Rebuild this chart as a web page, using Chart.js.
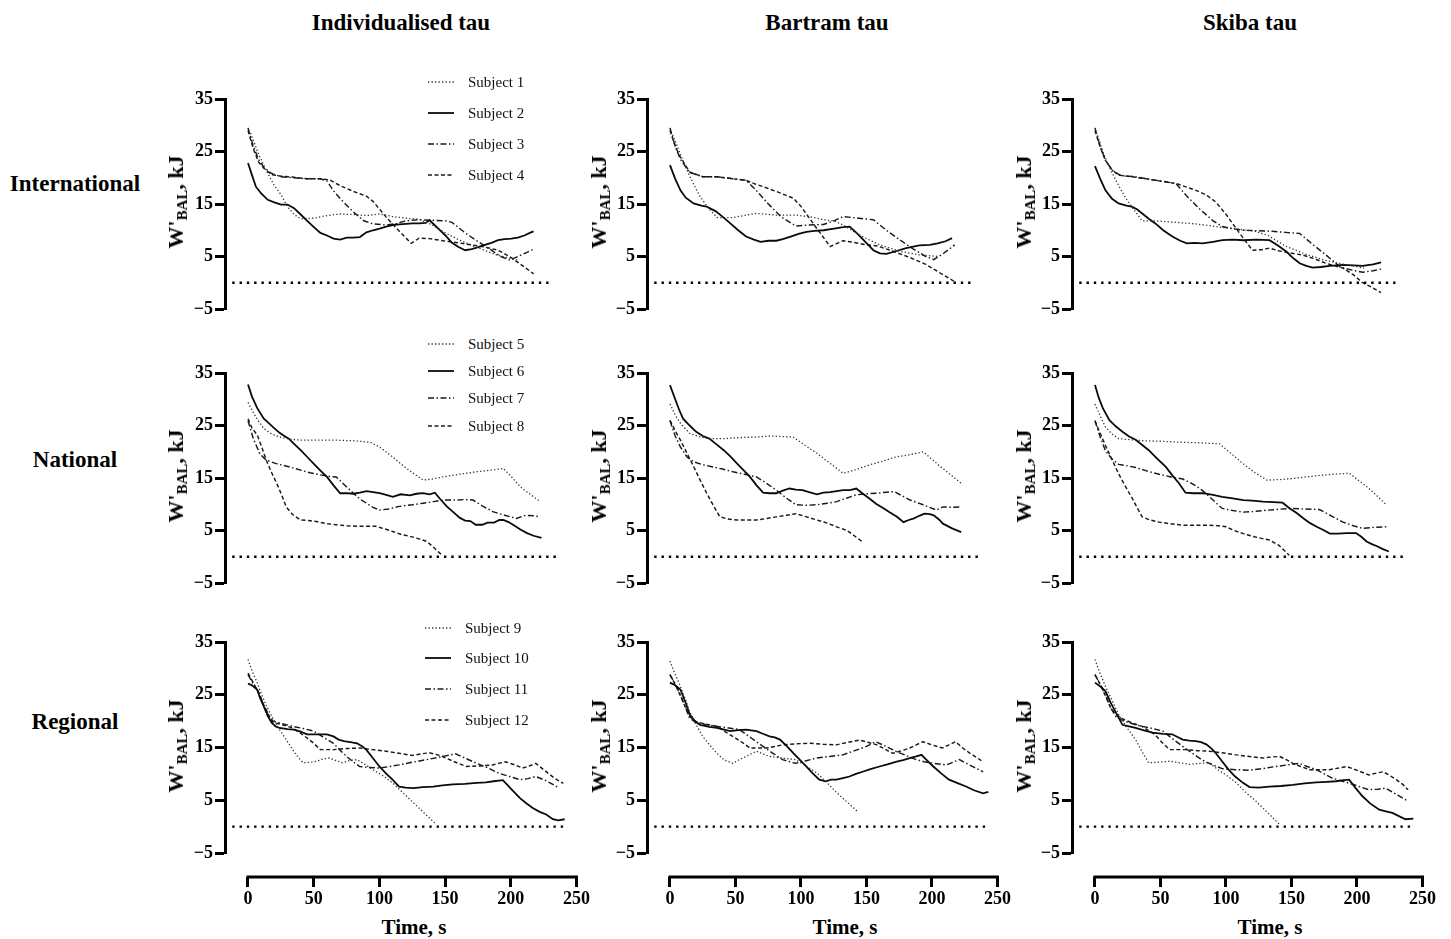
<!DOCTYPE html>
<html><head><meta charset="utf-8">
<script src="https://cdn.jsdelivr.net/npm/chart.js@4.4.1/dist/chart.umd.min.js"></script>
<style>
html,body{margin:0;padding:0;background:#fff;}
body{width:1451px;height:939px;position:relative;overflow:hidden;font-family:'Liberation Serif','Times New Roman',serif;color:#000;}
canvas{position:absolute;}
.t{position:absolute;transform:translate(-50%,-50%);font-weight:bold;white-space:nowrap;line-height:1;font-size:23px;}
.yt{position:absolute;transform:translate(-50%,-50%) rotate(-90deg);font-weight:bold;font-size:22px;white-space:nowrap;line-height:1;}
.yt sub{font-size:15px;vertical-align:baseline;position:relative;top:4px;}
.lrow{position:absolute;white-space:nowrap;height:18px;display:flex;align-items:center;transform:translateY(-50%);font-size:15px;color:#111;}
.lrow svg{display:block;}
</style></head>
<body>
<script>
// ---------------- labels / ticks ----------------
const columnTitles = ['Individualised tau', 'Bartram tau', 'Skiba tau'];
const rowTitles = ['International', 'National', 'Regional'];
const subjectLabels = [
  ['Subject 1', 'Subject 2', 'Subject 3', 'Subject 4'],
  ['Subject 5', 'Subject 6', 'Subject 7', 'Subject 8'],
  ['Subject 9', 'Subject 10', 'Subject 11', 'Subject 12']
];
const xTicks = [0, 50, 100, 150, 200, 250];
const yTicks = [-5, 5, 15, 25, 35];
const xAxisTitle = 'Time, s';
// dotted reference line at W'BAL = 0 : [start time, end time] per row
const zeroSpan = [[-12, 229], [-12, 235], [-12, 243]];

// ---------------- data: [time s, W'BAL kJ] ----------------
// International – Individualised tau
const intl_indiv_s1 = [[2,28.5],[8,24.5],[14,21.3],[20,18.5],[25,16.8],[30,14.5],[35,13.0],[40,12.2],[50,12.3],[60,12.8],[70,13.1],[80,13.0],[90,12.8],[100,13.1],[110,12.6],[120,12.3],[130,12.1],[140,11.0],[150,9.5],[160,8.2],[175,6.6],[190,5.2],[205,4.3]];
const intl_indiv_s2 = [[0,22.8],[3,20.5],[6,18.3],[10,17.0],[15,15.8],[20,15.3],[25,14.9],[30,14.9],[35,14.2],[40,13.0],[45,11.8],[50,10.6],[55,9.5],[60,9.0],[65,8.4],[70,8.2],[75,8.6],[80,8.6],[85,8.7],[90,9.6],[95,10.0],[100,10.3],[105,10.7],[110,11.0],[115,11.1],[120,11.2],[125,11.3],[130,11.3],[135,11.4],[138,11.9],[145,10.2],[150,9.0],[155,7.6],[160,6.8],[165,6.2],[170,6.4],[175,6.8],[180,7.2],[185,7.6],[190,8.1],[195,8.3],[200,8.4],[205,8.6],[210,9.0],[215,9.6],[217,9.8]];
const intl_indiv_s3 = [[0,29.5],[4,26],[8,23.5],[12,22],[18,20.8],[25,20.2],[35,20.0],[45,19.8],[55,19.8],[60,19.4],[65,17.5],[72,15.5],[80,13.5],[88,11.8],[95,11.2],[105,11.0],[113,11.3],[120,11.8],[130,12.0],[140,11.9],[150,11.8],[155,11.5],[165,9.5],[175,7.8],[185,6.2],[192,5.0],[199,4.3],[205,5.0],[212,5.8],[217,6.4]];
const intl_indiv_s4 = [[0,29.0],[4,25.5],[8,23.0],[12,21.8],[18,20.6],[25,20.3],[35,20.1],[45,19.8],[55,19.8],[62,19.6],[70,18.5],[80,17.4],[90,16.5],[95,15.5],[105,12.5],[115,9.8],[124,7.5],[130,8.5],[138,8.4],[148,8.0],[160,7.6],[170,7.2],[180,6.8],[190,6.2],[200,4.8],[210,3.0],[217,1.7]];
// International – Bartram tau
const intl_bart_s1 = [[2,28.2],[8,24.5],[13,21.4],[18,18.8],[23,16.4],[30,14.0],[36,12.4],[48,12.4],[58,12.9],[66,13.2],[81,12.9],[96,12.9],[108,12.5],[117,12.0],[125,11.8],[132,11.0],[145,9.0],[160,7.2],[175,6.0],[190,5.3],[205,5.0]];
const intl_bart_s2 = [[0,22.4],[4,19.8],[8,17.6],[12,16.2],[18,15.1],[24,14.7],[28,14.5],[35,13.6],[40,12.6],[46,11.3],[52,10.0],[58,8.8],[64,8.2],[69,7.8],[75,8.0],[81,8.0],[86,8.3],[92,8.8],[98,9.3],[104,9.7],[110,9.9],[117,10.0],[125,10.3],[132,10.6],[137,10.7],[143,9.3],[150,7.5],[155,6.2],[160,5.6],[165,5.5],[172,6.0],[180,6.6],[190,7.1],[198,7.2],[204,7.5],[210,7.9],[215,8.5]];
const intl_bart_s3 = [[0,29.5],[4,26.0],[8,23.5],[15,21.0],[25,20.2],[36,20.2],[48,19.8],[58,19.5],[65,17.8],[75,15.0],[85,12.5],[96,10.8],[106,11.0],[117,11.1],[125,11.8],[132,12.6],[140,12.4],[155,12.0],[165,10.0],[175,8.2],[185,6.5],[195,5.0],[201,4.4],[208,5.5],[217,7.2]];
const intl_bart_s4 = [[0,29.0],[4,26.0],[8,23.9],[15,21.1],[25,20.2],[36,20.2],[48,19.8],[58,19.5],[65,18.8],[71,18.3],[82,17.3],[94,16.1],[100,14.5],[110,11.0],[122,6.9],[132,8.0],[140,7.7],[148,7.3],[158,7.0],[170,6.0],[183,4.8],[195,3.5],[205,2.0],[217,0.2]];
// International – Skiba tau
const intl_skiba_s1 = [[1,28.7],[6,25.0],[11,22.0],[17,19.0],[23,16.3],[30,13.8],[36,11.8],[45,11.8],[62,11.5],[77,11.2],[90,10.8],[97,10.5],[110,10.2],[122,9.8],[132,9.0],[145,7.0],[160,5.5],[175,4.3],[190,3.5],[205,2.8]];
const intl_skiba_s2 = [[0,22.2],[4,19.8],[8,17.6],[13,16.0],[18,15.1],[24,14.7],[28,14.5],[32,14.0],[36,13.2],[41,12.2],[46,11.3],[52,10.0],[59,8.8],[65,8.0],[70,7.5],[76,7.6],[82,7.5],[90,7.8],[97,8.1],[105,8.2],[113,8.1],[123,8.2],[133,8.1],[140,7.0],[146,5.9],[151,4.7],[156,3.7],[161,3.2],[166,2.9],[172,3.0],[179,3.2],[189,3.4],[197,3.3],[204,3.2],[212,3.5],[218,3.9]];
const intl_skiba_s3 = [[0,29.5],[4,26],[8,23.3],[14,21.2],[20,20.4],[30,20.2],[44,19.6],[55,19.2],[62,18.8],[70,16.5],[80,14.0],[90,11.8],[97,10.7],[105,10.3],[113,10.0],[125,9.9],[135,9.8],[145,9.6],[156,9.4],[165,7.5],[175,5.5],[187,3.0],[196,2.4],[204,2.0],[212,2.3],[218,2.6]];
const intl_skiba_s4 = [[0,29.0],[4,25.8],[8,23.3],[13,21.5],[18,20.5],[28,20.2],[44,19.6],[62,18.9],[77,17.6],[85,16.7],[92,15.4],[100,13.0],[110,9.5],[120,6.2],[127,6.3],[133,6.6],[140,6.1],[148,5.7],[158,5.3],[167,4.6],[176,3.7],[189,2.8],[197,1.5],[204,0.0],[212,-1.0],[218,-1.9]];
// National – Individualised tau
const nat_indiv_s5 = [[0,29.4],[4,27.5],[7,26.2],[12,24.4],[18,23.4],[24,22.8],[32,22.4],[40,22.2],[55,22.2],[67,22.2],[80,22.1],[93,21.8],[100,20.9],[110,19.0],[120,16.9],[133,14.6],[140,14.8],[148,15.2],[160,15.7],[174,16.2],[185,16.5],[194,16.8],[200,15.3],[207,13.3],[215,11.8],[222,10.5]];
const nat_indiv_s6 = [[0,32.8],[3,30.5],[7,28.3],[12,26.3],[16,25.4],[19,24.7],[24,23.6],[27,23.1],[31,22.5],[35,21.5],[40,20.3],[45,19.0],[50,17.7],[55,16.4],[60,15.2],[65,13.6],[70,12.1],[75,12.1],[80,12.0],[85,12.2],[90,12.5],[95,12.3],[100,12.1],[105,11.8],[110,11.4],[116,11.9],[123,11.7],[128,12.0],[133,12.1],[138,11.9],[142,12.2],[146,11.0],[151,9.6],[156,8.5],[161,7.4],[165,6.9],[169,6.8],[173,6.1],[178,6.1],[182,6.5],[187,6.5],[191,7.0],[194,7.0],[198,6.6],[202,6.0],[207,5.2],[212,4.5],[217,4.0],[223,3.6]];
const nat_indiv_s7 = [[0,25.9],[4,22.5],[9,19.6],[13,18.6],[17,18.1],[22,17.7],[27,17.4],[33,17.0],[40,16.5],[47,16.0],[55,15.6],[62,15.3],[67,15.2],[72,14.0],[80,12.1],[85,11.0],[90,10.2],[95,9.4],[100,8.9],[107,9.1],[115,9.6],[125,9.9],[133,10.2],[141,10.5],[148,10.8],[158,10.8],[165,10.9],[171,10.8],[178,9.7],[186,8.6],[195,7.9],[204,7.3],[211,7.9],[217,7.8],[222,7.6]];
const nat_indiv_s8 = [[0,26.3],[3,24.5],[7,23.2],[11,20.5],[14,18.3],[18,16.0],[22,13.9],[26,11.5],[29,9.5],[34,8.0],[40,7.0],[46,6.9],[52,6.7],[60,6.3],[67,6.1],[75,5.9],[85,5.8],[97,5.8],[104,5.3],[110,4.8],[117,4.2],[123,3.9],[130,3.4],[136,2.9],[141,1.8],[147,0.4]];
// National – Bartram tau
const nat_bart_s5 = [[0,29.1],[4,27.0],[8,25.4],[15,23.5],[22,22.9],[30,22.5],[42,22.5],[53,22.7],[65,22.8],[76,23.0],[85,22.9],[94,22.8],[103,21.2],[112,19.7],[122,17.8],[132,15.9],[142,16.6],[152,17.5],[162,18.2],[172,19.0],[182,19.4],[193,20.0],[200,18.5],[206,17.2],[214,15.6],[222,14.0]];
const nat_bart_s6 = [[0,32.7],[4,30.0],[7,28.0],[10,26.3],[15,25.0],[20,23.8],[25,23.0],[30,22.5],[35,21.5],[41,20.3],[46,19.1],[51,17.8],[56,16.5],[61,15.2],[66,13.6],[71,12.2],[76,12.1],[81,12.1],[86,12.6],[91,13.0],[96,12.8],[101,12.7],[106,12.3],[112,11.9],[117,12.2],[122,12.3],[127,12.5],[132,12.7],[137,12.7],[142,13.0],[147,12.0],[152,11.1],[157,10.1],[163,9.2],[168,8.4],[173,7.6],[178,6.6],[182,7.0],[186,7.3],[190,7.8],[194,8.2],[198,8.1],[201,7.9],[205,7.1],[208,6.3],[215,5.4],[222,4.7]];
const nat_bart_s7 = [[0,25.9],[4,23.0],[8,20.9],[13,19.0],[18,18.1],[24,17.6],[31,17.2],[40,16.7],[48,16.2],[57,15.7],[66,15.2],[73,14.1],[81,12.7],[88,11.3],[96,9.9],[104,9.8],[112,9.9],[120,10.2],[127,10.5],[135,11.2],[142,11.8],[150,12.0],[158,12.1],[165,12.3],[171,12.4],[177,11.6],[183,10.8],[193,9.9],[203,8.9],[208,9.5],[215,9.4],[222,9.5]];
const nat_bart_s8 = [[0,26.0],[4,24.0],[8,22.2],[13,19.7],[18,17.2],[23,14.6],[28,12.1],[33,9.8],[38,7.6],[44,7.2],[51,7.0],[58,7.0],[66,7.0],[74,7.3],[81,7.6],[89,7.9],[96,8.2],[104,7.6],[112,7.0],[120,6.4],[127,5.7],[135,5.0],[141,3.9],[147,2.8]];
// National – Skiba tau
const nat_skiba_s5 = [[0,29.1],[4,26.8],[8,24.7],[13,23.4],[18,22.5],[27,22.3],[36,22.1],[50,22.0],[67,21.8],[80,21.7],[95,21.5],[104,19.6],[113,17.7],[122,16.0],[131,14.6],[141,14.7],[151,14.9],[164,15.3],[176,15.6],[186,15.8],[194,15.9],[200,14.7],[207,13.4],[215,11.6],[222,9.9]];
const nat_skiba_s6 = [[0,32.7],[3,30.2],[6,28.3],[11,26.0],[16,24.8],[21,23.8],[26,22.9],[31,22.3],[36,21.3],[41,20.3],[47,18.8],[54,17.1],[59,15.5],[64,14.0],[69,12.2],[75,12.1],[82,12.1],[90,11.8],[97,11.4],[105,11.1],[113,10.8],[120,10.7],[128,10.5],[136,10.4],[143,10.3],[148,9.3],[154,8.3],[159,7.3],[164,6.4],[169,5.7],[174,5.1],[179,4.4],[185,4.4],[192,4.5],[199,4.5],[203,3.8],[207,2.9],[211,2.4],[215,2.0],[219,1.5],[224,1.0]];
const nat_skiba_s7 = [[0,25.9],[4,22.8],[8,20.2],[13,18.6],[18,17.6],[25,17.3],[31,17.0],[40,16.3],[49,15.7],[58,15.2],[67,14.8],[75,13.8],[82,12.6],[90,10.8],[97,9.2],[105,8.8],[113,8.5],[120,8.6],[128,8.8],[138,9.0],[148,9.2],[160,9.1],[171,9.0],[180,7.8],[189,6.6],[197,5.9],[204,5.4],[212,5.6],[222,5.7]];
const nat_skiba_s8 = [[0,25.9],[4,23.5],[8,21.2],[13,18.5],[18,15.8],[23,13.5],[28,11.3],[32,9.4],[36,7.6],[42,7.0],[49,6.6],[57,6.3],[67,6.0],[77,6.0],[87,6.0],[94,5.9],[100,5.7],[106,5.0],[113,4.4],[120,3.9],[127,3.5],[133,3.2],[140,2.2],[148,0.3]];
// Regional – Individualised tau
const reg_indiv_s9 = [[0,31.7],[3,29.6],[7,27.3],[10,25.3],[14,22.9],[19,20.5],[24,18.4],[29,16.5],[34,14.6],[38,13.2],[42,12.1],[47,12.2],[52,12.4],[57,12.8],[62,13.0],[67,12.5],[72,12.1],[77,12.5],[83,12.7],[89,11.8],[95,10.8],[103,9.6],[110,8.3],[118,6.4],[126,4.5],[134,2.6],[142,0.7]];
const reg_indiv_s10 = [[0,27.1],[3,26.8],[7,26.0],[9,24.5],[12,22.8],[15,21.0],[18,19.7],[21,19.0],[24,18.7],[30,18.5],[35,18.4],[40,18.0],[45,17.5],[52,17.5],[60,17.5],[65,17.1],[69,16.5],[73,16.2],[78,16.0],[83,15.8],[87,15.2],[90,14.6],[95,13.0],[100,11.4],[105,10.1],[110,8.9],[115,7.6],[120,7.4],[126,7.3],[133,7.5],[141,7.6],[148,7.8],[156,8.0],[165,8.1],[174,8.3],[181,8.4],[187,8.6],[194,8.8],[200,7.2],[207,5.4],[212,4.4],[217,3.5],[222,2.8],[227,2.3],[232,1.4],[236,1.2],[241,1.4]];
const reg_indiv_s11 = [[0,28.8],[4,27.0],[8,25.5],[12,23.0],[16,21.0],[19,20.0],[25,19.6],[34,19.0],[42,18.6],[50,18.1],[57,17.0],[65,15.8],[70,14.5],[75,13.3],[80,12.3],[85,11.4],[92,11.2],[100,11.1],[108,11.4],[115,11.7],[125,12.2],[136,12.7],[148,13.3],[158,13.8],[166,12.9],[174,12.0],[182,11.2],[191,10.1],[199,9.5],[207,8.9],[213,9.1],[219,9.5],[226,8.8],[232,8.0],[237,7.3]];
const reg_indiv_s12 = [[0,29.1],[4,27.3],[8,25.5],[12,23.0],[16,21.0],[19,19.7],[25,19.4],[34,18.7],[40,17.7],[45,16.8],[50,15.8],[55,14.6],[60,14.6],[65,14.6],[75,14.8],[85,14.9],[95,14.6],[105,14.3],[115,13.9],[125,13.5],[132,13.8],[138,14.0],[143,13.7],[148,13.3],[157,12.3],[166,11.4],[176,11.5],[186,11.7],[196,12.3],[203,11.7],[209,11.1],[214,11.5],[219,12.0],[224,11.0],[230,9.8],[235,8.9],[240,8.2]];
// Regional – Bartram tau
const reg_bart_s9 = [[0,31.4],[4,28.9],[8,26.6],[12,24.0],[15,21.8],[20,19.3],[25,17.1],[30,15.6],[35,14.1],[41,12.7],[48,12.0],[53,12.7],[58,13.3],[66,14.3],[71,13.8],[76,13.3],[86,13.0],[96,12.7],[104,11.5],[112,10.2],[120,8.3],[127,6.5],[135,4.7],[143,2.9]];
const reg_bart_s10 = [[0,27.3],[4,26.8],[8,26.0],[12,23.5],[15,21.3],[19,20.0],[23,19.3],[30,18.9],[36,18.7],[46,18.1],[52,18.3],[58,18.4],[66,18.1],[71,17.6],[76,17.1],[80,16.9],[84,16.5],[89,15.3],[94,14.0],[99,12.7],[104,11.4],[109,10.1],[114,8.9],[119,8.6],[123,8.9],[127,8.9],[132,9.2],[137,9.5],[142,10.0],[147,10.4],[153,10.9],[160,11.4],[166,11.8],[173,12.3],[178,12.6],[183,13.0],[188,13.3],[192,13.6],[196,12.6],[201,11.4],[207,10.1],[213,8.9],[220,8.2],[226,7.6],[232,6.9],[239,6.3],[243,6.6]];
const reg_bart_s11 = [[0,28.8],[4,27.0],[8,25.0],[12,22.5],[15,20.6],[20,19.7],[28,19.3],[36,19.0],[45,18.7],[53,18.4],[62,16.8],[71,15.2],[78,14.0],[86,12.7],[96,12.0],[104,12.5],[112,13.0],[122,13.3],[132,13.6],[141,14.4],[150,15.2],[157,16.1],[165,15.2],[173,14.2],[180,13.5],[188,12.7],[194,12.3],[201,12.0],[211,11.7],[216,12.2],[221,12.7],[230,11.5],[239,10.4]];
const reg_bart_s12 = [[0,28.8],[4,27.0],[8,24.8],[12,22.5],[15,20.9],[20,19.9],[28,19.4],[36,19.0],[42,18.0],[48,17.1],[55,16.0],[61,14.9],[67,14.9],[74,14.9],[80,15.2],[86,15.5],[96,15.7],[107,15.8],[117,15.6],[127,15.5],[136,16.0],[145,16.4],[151,16.0],[158,15.5],[164,14.7],[170,13.9],[177,14.4],[183,14.9],[188,15.5],[193,16.1],[200,15.5],[208,14.9],[213,15.5],[218,16.1],[223,15.0],[229,13.9],[234,13.1],[239,12.3]];
// Regional – Skiba tau
const reg_skiba_s9 = [[0,31.7],[4,29.0],[8,26.6],[13,24.0],[18,21.3],[24,18.9],[31,16.5],[36,14.2],[41,12.1],[48,12.2],[57,12.4],[65,12.1],[72,11.8],[80,12.0],[87,12.1],[95,10.6],[100,9.8],[108,8.3],[115,6.5],[123,4.8],[132,2.6],[141,0.4]];
const reg_skiba_s10 = [[0,27.3],[4,26.6],[8,25.7],[12,23.5],[16,21.6],[21,19.3],[26,19.0],[31,18.7],[38,18.2],[44,17.8],[52,17.6],[59,17.5],[63,17.0],[67,16.5],[72,16.3],[77,16.2],[81,16.0],[85,15.6],[89,14.8],[92,14.0],[97,12.4],[102,10.8],[107,9.5],[113,8.3],[118,7.5],[125,7.4],[133,7.6],[142,7.7],[151,7.9],[160,8.2],[169,8.4],[177,8.5],[184,8.6],[190,8.8],[194,8.9],[199,7.3],[204,5.8],[210,4.4],[217,3.2],[222,2.9],[227,2.6],[232,2.0],[237,1.4],[243,1.5]];
const reg_skiba_s11 = [[0,28.8],[4,27.0],[8,25.0],[12,22.5],[16,20.9],[22,20.0],[30,19.4],[36,19.0],[44,18.6],[52,18.1],[59,16.7],[67,15.2],[75,13.8],[82,12.6],[90,11.7],[97,11.0],[107,10.8],[118,10.7],[128,11.0],[138,11.4],[147,11.7],[156,12.0],[162,11.4],[169,10.8],[175,10.0],[181,9.2],[189,8.6],[197,8.0],[203,7.5],[209,7.0],[216,7.1],[222,7.3],[230,6.1],[239,4.8]];
const reg_skiba_s12 = [[0,28.8],[4,27.0],[8,24.8],[12,22.5],[16,21.3],[22,20.3],[30,19.5],[36,19.0],[41,18.2],[46,17.4],[51,16.0],[57,14.6],[63,14.6],[69,14.6],[78,14.4],[87,14.3],[97,14.0],[108,13.6],[118,13.3],[128,13.0],[135,13.2],[141,13.3],[146,12.7],[151,12.0],[157,11.4],[164,10.8],[172,10.8],[179,10.8],[186,11.1],[192,11.4],[201,10.6],[209,9.8],[214,10.1],[220,10.4],[225,9.7],[230,8.9],[235,8.0],[239,7.0]];

const panelSeries = [
  [[intl_indiv_s1, intl_indiv_s2, intl_indiv_s3, intl_indiv_s4],
   [intl_bart_s1, intl_bart_s2, intl_bart_s3, intl_bart_s4],
   [intl_skiba_s1, intl_skiba_s2, intl_skiba_s3, intl_skiba_s4]],
  [[nat_indiv_s5, nat_indiv_s6, nat_indiv_s7, nat_indiv_s8],
   [nat_bart_s5, nat_bart_s6, nat_bart_s7, nat_bart_s8],
   [nat_skiba_s5, nat_skiba_s6, nat_skiba_s7, nat_skiba_s8]],
  [[reg_indiv_s9, reg_indiv_s10, reg_indiv_s11, reg_indiv_s12],
   [reg_bart_s9, reg_bart_s10, reg_bart_s11, reg_bart_s12],
   [reg_skiba_s9, reg_skiba_s10, reg_skiba_s11, reg_skiba_s12]]
];

// ---------------- styles & layout ----------------
const lineStyles = [
  {borderColor: '#333', borderWidth: 1.3, borderDash: [1.3, 2.2]},
  {borderColor: '#0a0a0a', borderWidth: 1.8, borderDash: []},
  {borderColor: '#1a1a1a', borderWidth: 1.45, borderDash: [6, 2.5, 1.5, 2.5]},
  {borderColor: '#1a1a1a', borderWidth: 1.45, borderDash: [4, 2.5]}
];
const FONT = "'Liberation Serif', 'Times New Roman', serif";
const colAxisX = [225, 647, 1072];
const colRightX = [577, 998, 1423];
const rowTopY = [99, 373, 642];
const rowBottomY = [309, 583, 853];
const xMin = -17.5, xMax = 250, yMin = -5, yMax = 35;
const xAxisAt = -9.55;
const colTitleX = [401, 827, 1250], colTitleY = 22;
const rowTitleX = 75, rowTitleY = [183, 459, 721];
const yTitleX = [176, 599, 1024];
const timeTitleX = [414, 845, 1270], timeTitleY = 927;
const legendPos = [
  {x: 428, y: [82, 113, 144, 175]},
  {x: 428, y: [344, 371, 398, 426]},
  {x: 425, y: [628, 658, 689, 720]}
];

Chart.defaults.font.family = FONT;

const offsetXAxis = {
  id: 'offsetXAxis',
  afterDraw(chart, args, opts) {
    if (!opts.display) return;
    const xs = chart.scales.x, ys = chart.scales.y, ctx = chart.ctx;
    const y = ys.getPixelForValue(opts.at);
    ctx.save();
    ctx.strokeStyle = '#000';
    ctx.lineWidth = 3;
    ctx.beginPath();
    ctx.moveTo(xs.getPixelForValue(xTicks[0]) - 1.5, y);
    ctx.lineTo(xs.getPixelForValue(xTicks[xTicks.length - 1]) + 1.5, y);
    ctx.stroke();
    ctx.restore();
  }
};

function addText(cls, html, x, y) {
  const d = document.createElement('div');
  d.className = cls;
  d.innerHTML = html;
  d.style.left = x + 'px';
  d.style.top = y + 'px';
  document.body.appendChild(d);
  return d;
}

const tickFont = {family: FONT, weight: 'bold', size: 18};
const charts = [];

for (let r = 0; r < 3; r++) {
  for (let c = 0; c < 3; c++) {
    const isBottom = r === 2;
    const padB = isBottom ? 60 : 15;
    const left = colAxisX[c] - 45, top = rowTopY[r] - 15;
    const w = colRightX[c] + 15 - left, h = rowBottomY[r] + padB - top;
    const cv = document.createElement('canvas');
    cv.width = w; cv.height = h;
    cv.style.left = left + 'px'; cv.style.top = top + 'px';
    cv.style.width = w + 'px'; cv.style.height = h + 'px';
    document.body.appendChild(cv);

    const datasets = [{
      label: 'zero',
      data: zeroSpan[r].map(t => ({x: t, y: 0})),
      borderColor: '#000', borderWidth: 2.4, borderDash: [2.4, 4.9],
      pointRadius: 0, fill: false, tension: 0
    }];
    panelSeries[r][c].forEach((s, i) => {
      datasets.push(Object.assign({
        label: subjectLabels[r][i],
        data: s.map(p => ({x: p[0], y: p[1]})),
        pointRadius: 0, fill: false, tension: 0
      }, lineStyles[i]));
    });

    const ch = new Chart(cv, {
      type: 'line',
      data: {datasets},
      options: {
        responsive: false, animation: false, devicePixelRatio: 1,
        layout: {padding: {left: 0, right: 15, top: 15, bottom: padB}},
        plugins: {legend: {display: false}, tooltip: {enabled: false},
                  offsetXAxis: {display: isBottom, at: xAxisAt}},
        scales: {
          x: {
            type: 'linear', min: xMin, max: xMax, display: isBottom,
            position: isBottom ? {y: xAxisAt} : 'bottom',
            afterBuildTicks: s => { s.ticks = xTicks.map(v => ({value: v})); },
            border: {display: false},
            grid: {display: true, drawOnChartArea: false, drawTicks: true, tickLength: 10, tickWidth: 3, tickColor: '#000'},
            ticks: {font: tickFont, color: '#000', padding: 2, maxRotation: 0, autoSkip: false}
          },
          y: {
            type: 'linear', min: yMin, max: yMax, position: 'left',
            afterBuildTicks: s => { s.ticks = yTicks.map(v => ({value: v})); },
            afterFit: s => { s.width = 45; },
            border: {display: true, width: 3, color: '#000'},
            grid: {display: true, drawOnChartArea: false, drawTicks: true, tickLength: 10, tickWidth: 3, tickColor: '#000'},
            ticks: {font: tickFont, color: '#000', padding: 2,
                    callback: v => v < 0 ? '\u2212' + Math.abs(v) : String(v)}
          }
        }
      },
      plugins: [offsetXAxis]
    });
    charts.push(ch);

    // y axis title (with subscript)
    addText('yt', "W'<sub>BAL</sub>, kJ", yTitleX[c], (rowTopY[r] + rowBottomY[r]) / 2 - 2);
    if (isBottom) addText('t', xAxisTitle, timeTitleX[c], timeTitleY).style.fontSize = '21px';

    // legend (left column), built from the chart's datasets
    if (c === 0) {
      ch.data.datasets.slice(1).forEach((ds, i) => {
        const dash = ds.borderDash.length ? ds.borderDash.join(' ') : 'none';
        const row = document.createElement('div');
        row.className = 'lrow';
        row.style.left = legendPos[r].x + 'px';
        row.style.top = legendPos[r].y[i] + 'px';
        row.innerHTML = '<svg width="26" height="6"><line x1="0" y1="3" x2="26" y2="3" stroke="' + ds.borderColor +
          '" stroke-width="' + ds.borderWidth + '" stroke-dasharray="' + dash + '"/></svg>' +
          '<span style="margin-left:14px">' + ds.label + '</span>';
        document.body.appendChild(row);
      });
    }
  }
}

columnTitles.forEach((t, c) => addText('t', t, colTitleX[c], colTitleY));
rowTitles.forEach((t, r) => addText('t', t, rowTitleX, rowTitleY[r]));
</script>
</body></html>
